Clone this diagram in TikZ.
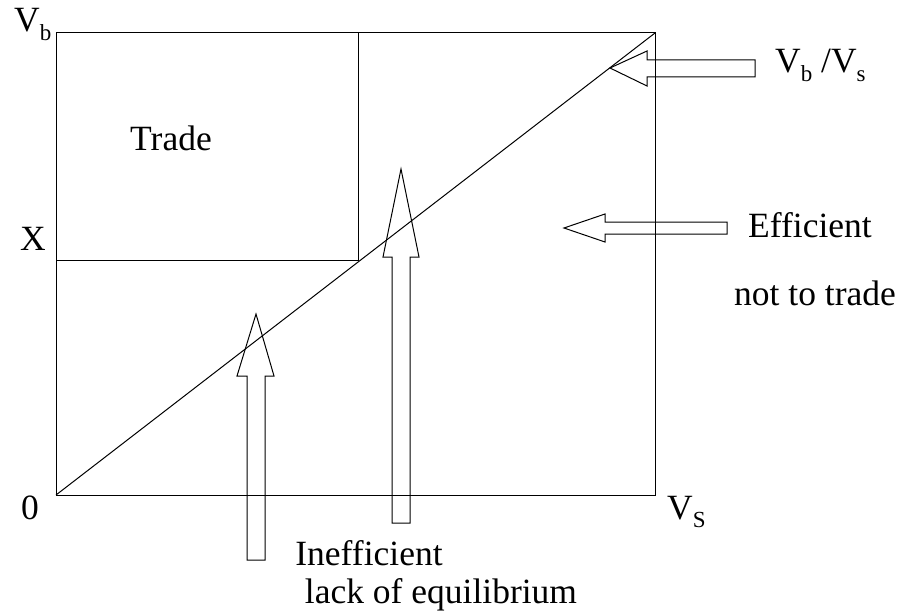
\documentclass[tikz,border=0pt]{standalone}
\usepackage{fontspec}
\setmainfont{Liberation Serif}
\newcommand{\sbs}[1]{\raisebox{-8.5pt}{\fontsize{23}{23}\selectfont #1}}
\begin{document}
\begin{tikzpicture}[x=1pt,y=-1pt,
  ln/.style={line width=1pt,black},
  blockarrow/.style={line width=1pt,black,line join=miter},
  lbl/.style={inner sep=0pt,font=\fontsize{35.5}{40}\selectfont}]
\useasboundingbox (0,0) rectangle (902,615);
% frame
\coordinate (bl) at (56,495);
\coordinate (tr) at (655,33);
\coordinate (xl) at (56,260);
\coordinate (xm) at (358,260);
\coordinate (tm) at (358,33);
\draw[ln] (bl) rectangle (tr);
\draw[ln] (xl) -- (xm) -- (tm);
\draw[ln] (bl) -- (tr);
% block arrows
\draw[blockarrow] (755,60) -- (647,60) -- (647,51) -- (610,68) -- (647,86) -- (647,77) -- (755,77) -- cycle;
\draw[blockarrow] (727,222) -- (605,222) -- (605,214) -- (564,228) -- (605,242) -- (605,234) -- (727,234) -- cycle;
\draw[blockarrow] (247,560) -- (247,376) -- (237,376) -- (256,314) -- (274,376) -- (265,376) -- (265,560) -- cycle;
\draw[blockarrow] (392,523) -- (392,257) -- (383,257) -- (401,169) -- (419,257) -- (410,257) -- (410,523) -- cycle;
% labels
\node[lbl,anchor=base west] (vb) at (14,32) {V\sbs{b}};
\node[lbl,anchor=base west] (x) at (20,250) {X};
\node[lbl,anchor=base west] (zero) at (21,519) {0};
\node[lbl,anchor=base west] (vs) at (667,519) {V\sbs{S}};
\node[lbl,anchor=base west] (vbvs) at (775,73) {V\sbs{b} /V\sbs{s}};
\node[lbl,anchor=base] (trade) at (171,150) {Trade};
\node[lbl,anchor=base] (eff) at (810,237) {Efficient};
\node[lbl,anchor=base] (nott) at (815,305) {not to trade};
\node[lbl,anchor=base] (ineff) at (369,565) {Inefficient};
\node[lbl,anchor=base] (lack) at (441,603) {lack of equilibrium};
\end{tikzpicture}
\end{document}
